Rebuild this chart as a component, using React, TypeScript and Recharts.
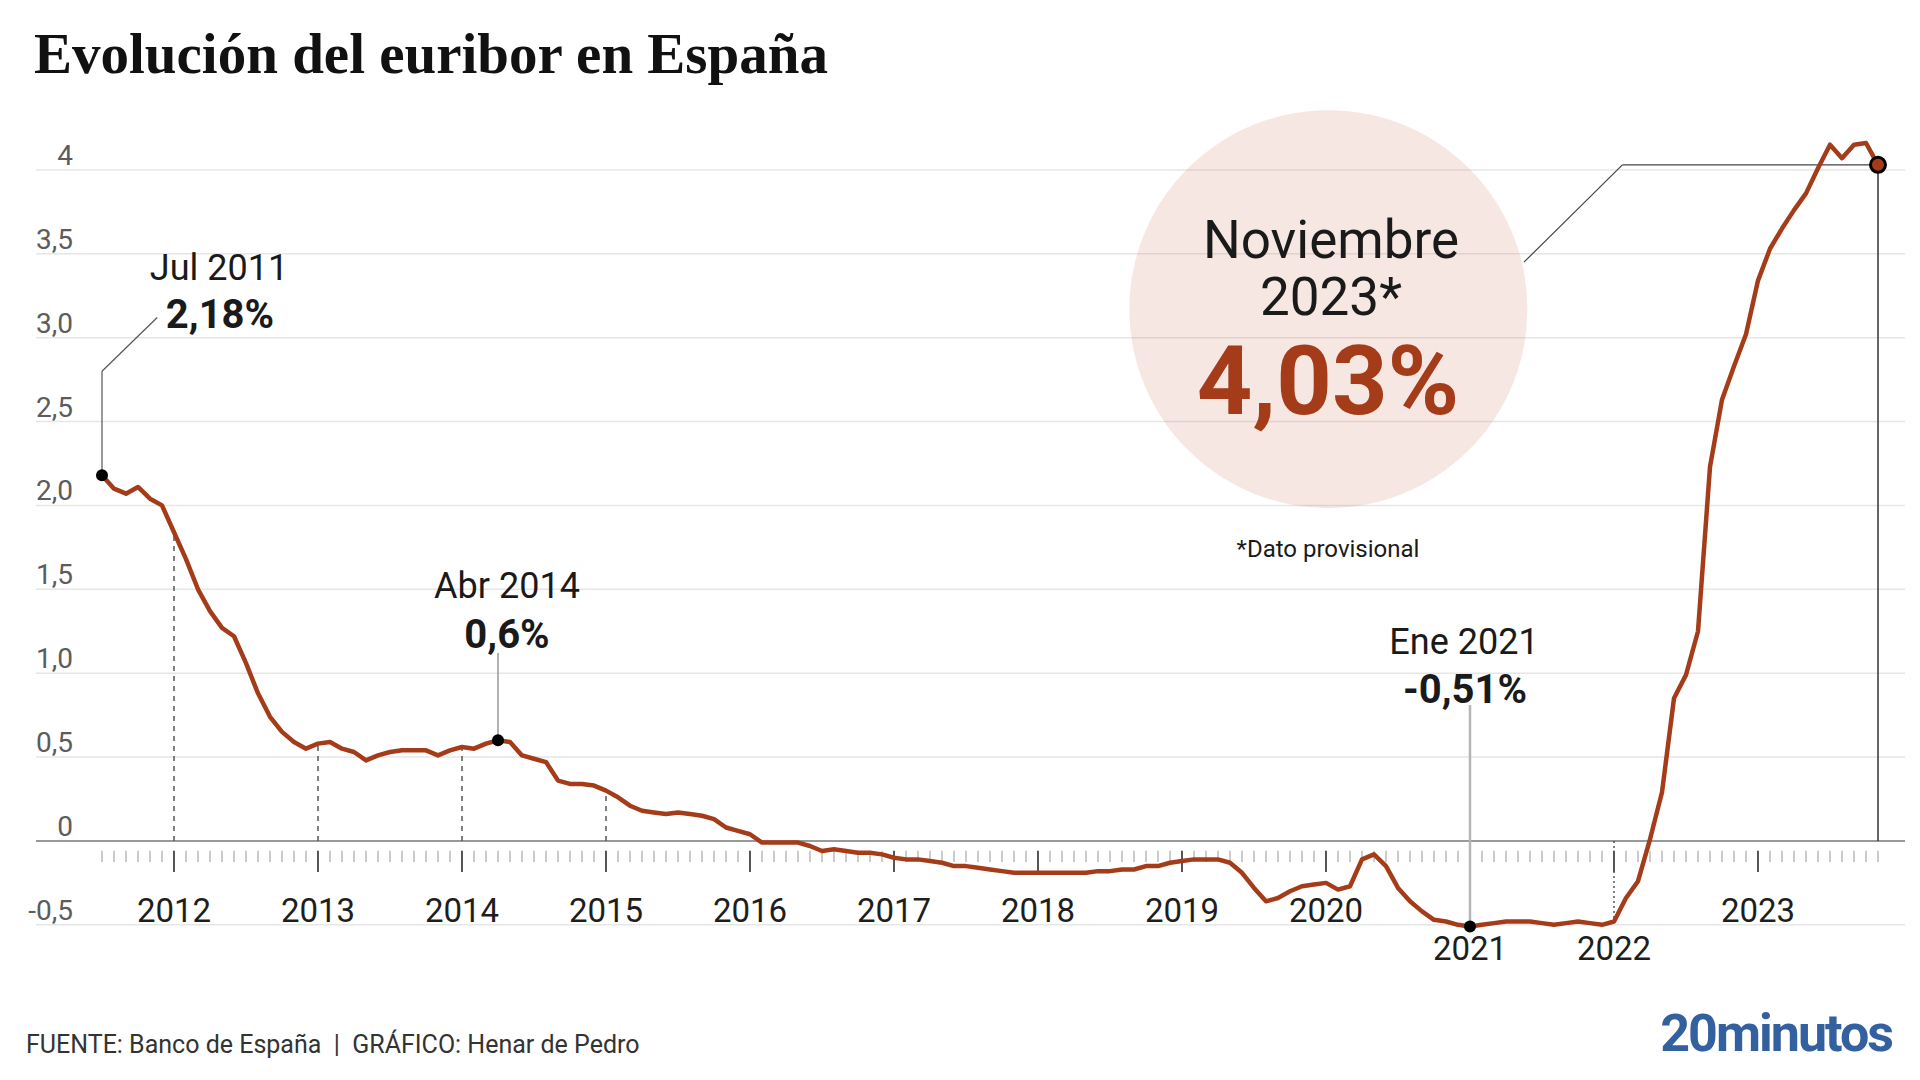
import React from "react";
import { LineChart, Line, XAxis, YAxis, ReferenceLine, ReferenceDot } from "recharts";

// serie mensual desde julio 2011 hasta noviembre 2023
const startYear = 2011;
const startMonth = 7;

const euribor = [
  2.18, 2.1, 2.07, 2.11, 2.04, 2.0,
  1.84, 1.68, 1.5, 1.37, 1.27, 1.22, 1.06, 0.88, 0.74, 0.65, 0.59, 0.55,
  0.58, 0.59, 0.55, 0.53, 0.48, 0.51, 0.53, 0.54, 0.54, 0.54, 0.51, 0.54,
  0.56, 0.55, 0.58, 0.6, 0.59, 0.51, 0.49, 0.47, 0.36, 0.34, 0.34, 0.33,
  0.3, 0.26, 0.21, 0.18, 0.17, 0.16, 0.17, 0.16, 0.15, 0.13, 0.08, 0.06,
  0.04, -0.01, -0.01, -0.01, -0.01, -0.03, -0.06, -0.05, -0.06, -0.07, -0.07, -0.08,
  -0.1, -0.11, -0.11, -0.12, -0.13, -0.15, -0.15, -0.16, -0.17, -0.18, -0.19, -0.19,
  -0.19, -0.19, -0.19, -0.19, -0.19, -0.18, -0.18, -0.17, -0.17, -0.15, -0.15, -0.13,
  -0.12, -0.11, -0.11, -0.11, -0.13, -0.19, -0.28, -0.36, -0.34, -0.3, -0.27, -0.26,
  -0.25, -0.29, -0.27, -0.11, -0.08, -0.15, -0.28, -0.36, -0.42, -0.47, -0.48, -0.5,
  -0.51, -0.5, -0.49, -0.48, -0.48, -0.48, -0.49, -0.5, -0.49, -0.48, -0.49, -0.5,
  -0.48, -0.34, -0.24, 0.01, 0.29, 0.85, 0.99, 1.25, 2.23, 2.63, 2.83, 3.02,
  3.34, 3.53, 3.65, 3.76, 3.86, 4.01, 4.15, 4.07, 4.15, 4.16, 4.03,
];

const years = [2012, 2013, 2014, 2015, 2016, 2017, 2018, 2019, 2020, 2021, 2022, 2023];
const lowYears = [2021, 2022];
const dashedYears = [2012, 2013, 2014, 2015];
const dottedYears = [2022];

const yTicks = [-0.5, 0, 0.5, 1, 1.5, 2, 2.5, 3, 3.5, 4];
const yTickLabels = ["-0,5", "0", "0,5", "1,0", "1,5", "2,0", "2,5", "3,0", "3,5", "4"];

const RUST = "#a53c19";
const FONT = "Roboto, 'Noto Sans', sans-serif";

const idxOf = (year: number, month: number) => (year - startYear) * 12 + (month - startMonth);
const data = euribor.map((v, i) => ({ i, v }));
const last = euribor.length - 1;

const iJul11 = idxOf(2011, 7);
const iAbr14 = idxOf(2014, 4);
const iEne21 = idxOf(2021, 1);

const YTick = (props: any) => {
  const k = yTicks.indexOf(props.payload.value);
  return (
    <text x={73} y={props.y - 5} textAnchor="end" fontSize={28} fill="#5c5c5c" fontFamily={FONT}>
      {yTickLabels[k]}
    </text>
  );
};

const XTick = (props: any) => {
  const year = startYear + Math.floor((props.payload.value + startMonth - 1) / 12);
  const low = lowYears.includes(year);
  return (
    <text x={props.x} y={low ? 960 : 922} textAnchor="middle" fontSize={33} fill="#1e1e1e" fontFamily={FONT}>
      {year}
    </text>
  );
};

export default function App() {
  return (
    <div style={{ position: "absolute", left: 0, top: 0, width: 1920, height: 1080, background: "#fff", overflow: "hidden" }}>
      <LineChart width={1920} height={1080} data={data} margin={{ top: 86, right: 15, bottom: 123.5, left: 0 }}>
        <XAxis
          type="number"
          dataKey="i"
          domain={[-5.5, 150.25]}
          ticks={years.map((y) => idxOf(y, 1))}
          axisLine={false}
          tickLine={false}
          height={30}
          tick={<XTick />}
        />
        <YAxis
          type="number"
          domain={[-0.5, 4.5]}
          ticks={yTicks}
          width={36}
          axisLine={false}
          tickLine={false}
          tick={<YTick />}
        />
        {yTicks.filter((t) => t !== 0).map((t) => (
          <ReferenceLine key={"g" + t} y={t} stroke="#e6e6e6" strokeWidth={1.5} />
        ))}
        <ReferenceDot x={102.2} y={3.17} r={199} fill="rgba(200,110,85,0.17)" stroke="none" />
        <ReferenceLine y={0} stroke="#777" strokeWidth={1.5} />
        {euribor.map((_, i) => {
          const major = (i + startMonth - 1) % 12 === 0;
          return (
            <ReferenceLine
              key={"t" + i}
              segment={[{ x: i, y: -0.058 }, { x: i, y: major ? -0.185 : -0.125 }]}
              stroke={major ? "#555" : "#bbb"}
              strokeWidth={major ? 2 : 1.5}
            />
          );
        })}
        {dashedYears.map((y) => (
          <ReferenceLine
            key={"d" + y}
            segment={[{ x: idxOf(y, 1), y: 0 }, { x: idxOf(y, 1), y: euribor[idxOf(y, 1)] }]}
            stroke="#555"
            strokeWidth={1.5}
            strokeDasharray="5 5"
          />
        ))}
        {dottedYears.map((y) => (
          <ReferenceLine
            key={"o" + y}
            segment={[{ x: idxOf(y, 1), y: 0 }, { x: idxOf(y, 1), y: euribor[idxOf(y, 1)] }]}
            stroke="#555"
            strokeWidth={1.5}
            strokeDasharray="2 3"
          />
        ))}
        {/* lineas guia de las anotaciones */}
        <ReferenceLine segment={[{ x: iJul11, y: euribor[iJul11] }, { x: iJul11, y: 2.8 }]} stroke="#555" strokeWidth={1.2} />
        <ReferenceLine segment={[{ x: iJul11, y: 2.8 }, { x: 4.6, y: 3.12 }]} stroke="#555" strokeWidth={1.2} />
        <ReferenceLine segment={[{ x: iAbr14, y: euribor[iAbr14] }, { x: iAbr14, y: 1.12 }]} stroke="#999" strokeWidth={1.5} />
        <ReferenceLine segment={[{ x: iEne21, y: euribor[iEne21] }, { x: iEne21, y: 0.81 }]} stroke="#b5b5b5" strokeWidth={2.5} />
        <ReferenceLine segment={[{ x: last, y: euribor[last] }, { x: last, y: 0 }]} stroke="#333" strokeWidth={1.5} />
        <ReferenceLine segment={[{ x: last, y: euribor[last] }, { x: 126.7, y: euribor[last] }]} stroke="#444" strokeWidth={1.2} />
        <ReferenceLine segment={[{ x: 126.7, y: euribor[last] }, { x: 118.5, y: 3.45 }]} stroke="#444" strokeWidth={1.2} />
        <Line type="linear" dataKey="v" stroke={RUST} strokeWidth={4.5} dot={false} isAnimationActive={false} strokeLinejoin="round" />
        <ReferenceDot x={iJul11} y={euribor[iJul11]} r={6} fill="#000" stroke="none" />
        <ReferenceDot x={iAbr14} y={euribor[iAbr14]} r={6} fill="#000" stroke="none" />
        <ReferenceDot x={iEne21} y={euribor[iEne21]} r={6} fill="#000" stroke="none" />
        <ReferenceDot x={last} y={euribor[last]} r={7.5} fill={RUST} stroke="#000" strokeWidth={3} />
      </LineChart>

      <svg width={1920} height={1080} style={{ position: "absolute", left: 0, top: 0, pointerEvents: "none" }}>
        <text x={34} y={73} fontFamily="'Liberation Serif', serif" fontWeight="bold" fontSize={57} fill="#111">
          Evolución del euribor en España
        </text>

        <g fontFamily={FONT} textAnchor="middle" fill="#1a1a1a">
          <text x={219} y={280} fontSize={36}>Jul 2011</text>
          <text x={220} y={328} fontSize={40} fontWeight="bold">2,18%</text>
          <text x={507} y={598} fontSize={36}>Abr 2014</text>
          <text x={507} y={648} fontSize={40} fontWeight="bold">0,6%</text>
          <text x={1464} y={654} fontSize={36}>Ene 2021</text>
          <text x={1465} y={703} fontSize={40} fontWeight="bold">-0,51%</text>

          <text x={1331} y={258} fontSize={53}>Noviembre</text>
          <text x={1331} y={315} fontSize={53}>2023*</text>
          <text x={1328} y={414} fontSize={97} fontWeight="bold" fill={RUST}>4,03%</text>
          <text x={1328} y={557} fontSize={24}>*Dato provisional</text>
        </g>

        <text x={26} y={1053} fontFamily={FONT} fontSize={25} fill="#333" style={{ whiteSpace: "pre" }}>
          {"FUENTE: Banco de España  |  GRÁFICO: Henar de Pedro"}
        </text>
        <text x={1892} y={1051} textAnchor="end" fontFamily={FONT} fontSize={52} fontWeight="bold" fill="#33609f" letterSpacing={-2}>
          20minutos
        </text>
      </svg>
    </div>
  );
}
